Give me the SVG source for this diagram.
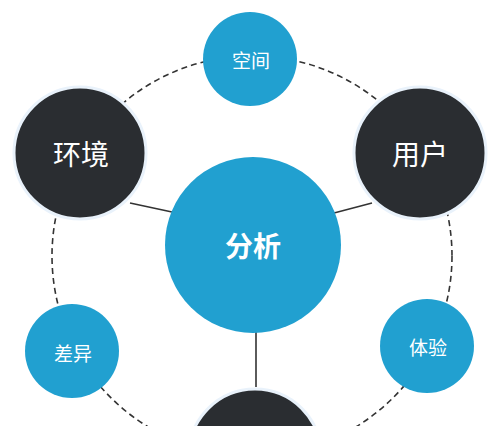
<svg xmlns="http://www.w3.org/2000/svg" width="500" height="426" viewBox="0 0 500 426">
<style>
.blue{fill:#21a0d0}
.dark{fill:#2a2d31;stroke:#e9f2fb;stroke-width:3}
.t{fill:#fff;font-family:"Noto Sans CJK SC","Noto Sans",sans-serif;text-anchor:middle;dominant-baseline:central}
.conn{stroke:#333;stroke-width:1.6;fill:none}
.dash{stroke:#333;stroke-width:1.6;fill:none;stroke-dasharray:6 4}
</style>
<rect width="500" height="426" fill="#fff"/>
<g id="connectors">
<circle class="dash" cx="252" cy="256" r="200"/>
<line class="conn" x1="130" y1="203" x2="172" y2="212"/>
<line class="conn" x1="334" y1="213" x2="372" y2="203"/>
<line class="conn" x1="256" y1="330" x2="256" y2="387"/>
</g>
<g id="n-center"><circle class="blue" cx="253" cy="245" r="88"/><text class="t" x="253" y="245" font-size="28" font-weight="bold">分析</text></g>
<g id="n-space"><circle class="blue" cx="250" cy="59" r="47"/><text class="t" x="251" y="59" font-size="19">空间</text></g>
<g id="n-env"><circle class="dark" cx="80" cy="153" r="66"/><text class="t" x="81" y="153" font-size="28">环境</text></g>
<g id="n-user"><circle class="dark" cx="420" cy="153" r="66"/><text class="t" x="420" y="153" font-size="28">用户</text></g>
<g id="n-diff"><circle class="blue" cx="72" cy="351" r="47"/><text class="t" x="73" y="352" font-size="19">差异</text></g>
<g id="n-exp"><circle class="blue" cx="427" cy="346" r="47"/><text class="t" x="428" y="346" font-size="19">体验</text></g>
<g id="n-bottom"><circle class="dark" cx="255" cy="455" r="66"/></g>
</svg>
